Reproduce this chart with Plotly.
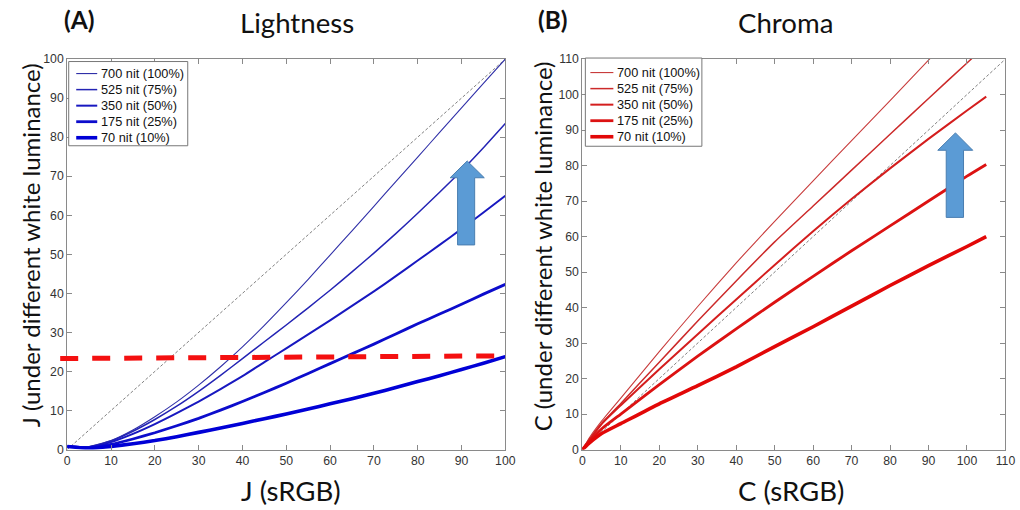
import plotly.graph_objects as go

# ---------------- data ----------------
SERIES = ["700 nit (100%)", "525 nit (75%)", "350 nit (50%)", "175 nit (25%)", "70 nit (10%)"]

# Panel A: Lightness
J_SRGB = [0, 5, 10, 15, 20, 25, 30, 35, 40, 45, 50, 55, 60, 65, 70, 75, 80, 85, 90, 95, 100]
J_700 = [0.8, 0.8, 2.3, 5.0, 8.4, 12.2, 16.5, 21.2, 26.3, 31.8, 37.6, 43.6, 49.8, 56.0, 62.3,
         68.6, 74.9, 81.2, 87.5, 93.75, 100.0]
J_525 = [0.8, 0.7, 2.2, 4.7, 7.7, 11.1, 14.9, 19.0, 23.3, 27.6, 31.9, 36.3, 40.8, 45.5, 50.3,
         55.3, 60.5, 65.9, 71.4, 77.3, 83.5]
J_350 = [0.8, 0.6, 1.9, 4.0, 6.5, 9.3, 12.3, 15.5, 18.8, 22.4, 25.9, 29.5, 33.1, 36.8, 40.5,
         44.4, 48.4, 52.4, 56.5, 60.7, 65.0]
J_175 = [0.8, 0.5, 1.3, 2.7, 4.3, 6.1, 8.0, 10.1, 12.3, 14.6, 17.0, 19.5, 22.0, 24.5, 27.0,
         29.6, 32.2, 34.7, 37.2, 39.8, 42.3]
J_70 = [0.8, 0.3, 0.8, 1.5, 2.3, 3.3, 4.4, 5.5, 6.7, 7.9, 9.1, 10.4, 11.7, 13.0, 14.4,
        15.9, 17.4, 18.9, 20.5, 22.1, 23.8]
J_LIST = [J_700, J_525, J_350, J_175, J_70]

# reference (red dashed) level in panel A
REF_J = [-1.6, 100]
REF_VAL = [23.3, 24.0]

# Panel B: Chroma
C_SRGB = [0, 2, 5, 10, 20, 30, 40, 50, 60, 70, 80, 90, 100, 105]
C_700 = [0, 3.6, 8.0, 14.5, 27.6, 40.3, 52.6, 64.3, 75.7, 87.0, 98.3, 109.7, 120.8, 126.3]
C_525 = [0, 3.2, 7.3, 13.0, 24.6, 36.2, 47.5, 58.5, 68.6, 78.7, 88.8, 98.9, 108.9, 113.9]
C_350 = [0, 2.9, 7.2, 12.5, 22.6, 32.5, 42.3, 52.0, 61.5, 70.6, 79.2, 87.5, 95.5, 99.4]
C_175 = [0, 2.5, 5.8, 10.0, 18.3, 26.3, 34.0, 41.5, 48.8, 56.0, 63.0, 70.0, 77.0, 80.3]
C_70 = [0, 2.0, 4.5, 7.3, 12.9, 18.0, 23.3, 29.0, 34.6, 40.4, 46.2, 51.8, 57.2, 60.0]
C_LIST = [C_700, C_525, C_350, C_175, C_70]

# ---------------- styles / geometry ----------------
W, H = 1020, 510
# empirical screen mapping compensation (target pixel -> layout pixel)
SX, OX, SY, OY = 0.987, 2.8, 0.97, 7.6
FS = 1 / 0.978


def px(x):
    return ((x - OX) / SX) / W


def py(y):
    return 1 - ((y - OY) / SY) / H


WIDTHS = [1.1, 1.5, 2.0, 2.8, 3.6]
BLUES = ["#3030a8", "#2424b4", "#1818c0", "#0c0ccc", "#0000d6"]
REDS = ["#c83c3c", "#cc2a2a", "#d41e1e", "#dc1212", "#e20808"]
TICK_FONT = dict(family="Liberation Sans, Arial", size=12 * FS, color="#333333")
TITLE_FONT = "Lato, Open Sans, sans-serif"

fig = go.Figure()

# diagonals
fig.add_trace(go.Scatter(x=[0, 100], y=[0, 100], mode="lines", showlegend=False,
                         line=dict(color="#808080", width=1, dash="3px,2px"),
                         xaxis="x", yaxis="y", hoverinfo="skip"))
fig.add_trace(go.Scatter(x=[0, 110], y=[0, 110], mode="lines", showlegend=False,
                         line=dict(color="#808080", width=1, dash="3px,2px"),
                         xaxis="x2", yaxis="y2", hoverinfo="skip"))

for name, ys, w, c in zip(SERIES, J_LIST, WIDTHS, BLUES):
    fig.add_trace(go.Scatter(x=J_SRGB, y=ys, name=name, mode="lines", showlegend=False,
                             line=dict(color=c, width=w, shape="spline", smoothing=0.5),
                             xaxis="x", yaxis="y"))
for name, ys, w, c in zip(SERIES, C_LIST, WIDTHS, REDS):
    fig.add_trace(go.Scatter(x=C_SRGB, y=ys, name=name, mode="lines", showlegend=False,
                             line=dict(color=c, width=w, shape="spline", smoothing=0.5),
                             xaxis="x2", yaxis="y2"))

XA = [px(67), px(505)]
XB = [px(582), px(1005)]
YD = [py(449), py(59.5)]


def ax(domain, rng, anchor):
    return dict(domain=domain, range=rng, anchor=anchor, dtick=10, tick0=0,
                showline=True, linecolor="#8a8a8a", linewidth=1, mirror="ticks",
                ticks="inside", ticklen=5, tickcolor="#8a8a8a", showgrid=False,
                zeroline=False, tickfont=TICK_FONT, fixedrange=True)


A_RANGE = [0, 100]
B_RANGE = [0, 110]

# red dashed line (in domain coordinates so it may start left of the axis)
shapes = [dict(type="line", xref="x domain", yref="y domain",
               x0=(REF_J[0] - A_RANGE[0]) / (A_RANGE[1] - A_RANGE[0]),
               x1=(REF_J[1] - A_RANGE[0]) / (A_RANGE[1] - A_RANGE[0]),
               y0=REF_VAL[0] / A_RANGE[1], y1=REF_VAL[1] / A_RANGE[1],
               line=dict(color="#f41010", width=5, dash="18px,14px"))]


def arrow_path(xl, xr, sl, sr, xt, yb, yh, yt):
    return (f"M {sl} {yb} L {sr} {yb} L {sr} {yh} L {xr} {yh} L {xt} {yt} "
            f"L {xl} {yh} L {sl} {yh} Z")


ARROW_A = dict(xl=87.4, xr=95.2, sl=89.1, sr=93.0, xt=91.3, yb=52.4, yh=69.6, yt=73.9)
ARROW_B = dict(xl=92.4, xr=101.5, sl=94.6, sr=99.1, xt=97.0, yb=65.4, yh=84.3, yt=89.2)
shapes.append(dict(type="path", xref="x", yref="y", path=arrow_path(**ARROW_A),
                   fillcolor="#5b9bd5", line=dict(color="#4a7eb0", width=1)))
shapes.append(dict(type="path", xref="x2", yref="y2", path=arrow_path(**ARROW_B),
                   fillcolor="#5b9bd5", line=dict(color="#4a7eb0", width=1)))


def ann(text, x, y, size, bold=False, angle=0, xanchor="center", family=TITLE_FONT,
        color="#111111"):
    return dict(text=f"<b>{text}</b>" if bold else text, x=px(x), y=py(y),
                xref="paper", yref="paper", showarrow=False, textangle=angle,
                font=dict(family=family, size=size * FS, color=color),
                xanchor=xanchor, yanchor="middle")


annotations = [
    ann("(A)", 79, 20, 24, bold=True),
    ann("Lightness", 297, 23, 27),
    ann("(B)", 553, 20, 24, bold=True),
    ann("Chroma", 785, 23, 27),
    ann("J (sRGB)", 291, 490, 27),
    ann("C (sRGB)", 791, 490, 27),
    ann("J (under different white luminance)", 30, 245, 23.5, angle=-90),
    ann("C (under different white luminance)", 542, 246, 23.5, angle=-90),
]

# hand-placed legends (MATLAB style boxes with compact rows)
LEG_A = dict(box=(68.5, 62, 187.5, 146), line=(76, 97), text_x=99, rows=[74, 90, 106, 122, 138])
LEG_B = dict(box=(585, 58.5, 701.5, 146.5), line=(590, 613), text_x=615, rows=[73, 89, 105, 121, 137])
for leg, colors in ((LEG_A, BLUES), (LEG_B, REDS)):
    bx0, by0, bx1, by1 = leg["box"]
    shapes.append(dict(type="rect", xref="paper", yref="paper",
                       x0=px(bx0), x1=px(bx1), y0=py(by1), y1=py(by0),
                       fillcolor="white", line=dict(color="#777777", width=1)))
    for name, ry, w, c in zip(SERIES, leg["rows"], WIDTHS, colors):
        shapes.append(dict(type="line", xref="paper", yref="paper",
                           x0=px(leg["line"][0]), x1=px(leg["line"][1]),
                           y0=py(ry), y1=py(ry), line=dict(color=c, width=w)))
        annotations.append(ann(name, leg["text_x"], ry, 12.5, xanchor="left",
                               family="Liberation Sans, Arial", color="#111111"))

fig.update_layout(
    width=W, height=H, margin=dict(l=0, r=0, t=0, b=0),
    paper_bgcolor="white", plot_bgcolor="white",
    xaxis=ax(XA, A_RANGE, "y"), yaxis=ax(YD, A_RANGE, "x"),
    xaxis2=ax(XB, B_RANGE, "y2"), yaxis2=ax(YD, B_RANGE, "x2"),
    shapes=shapes, annotations=annotations,
    showlegend=False,
)

fig.write_html("out.html")
